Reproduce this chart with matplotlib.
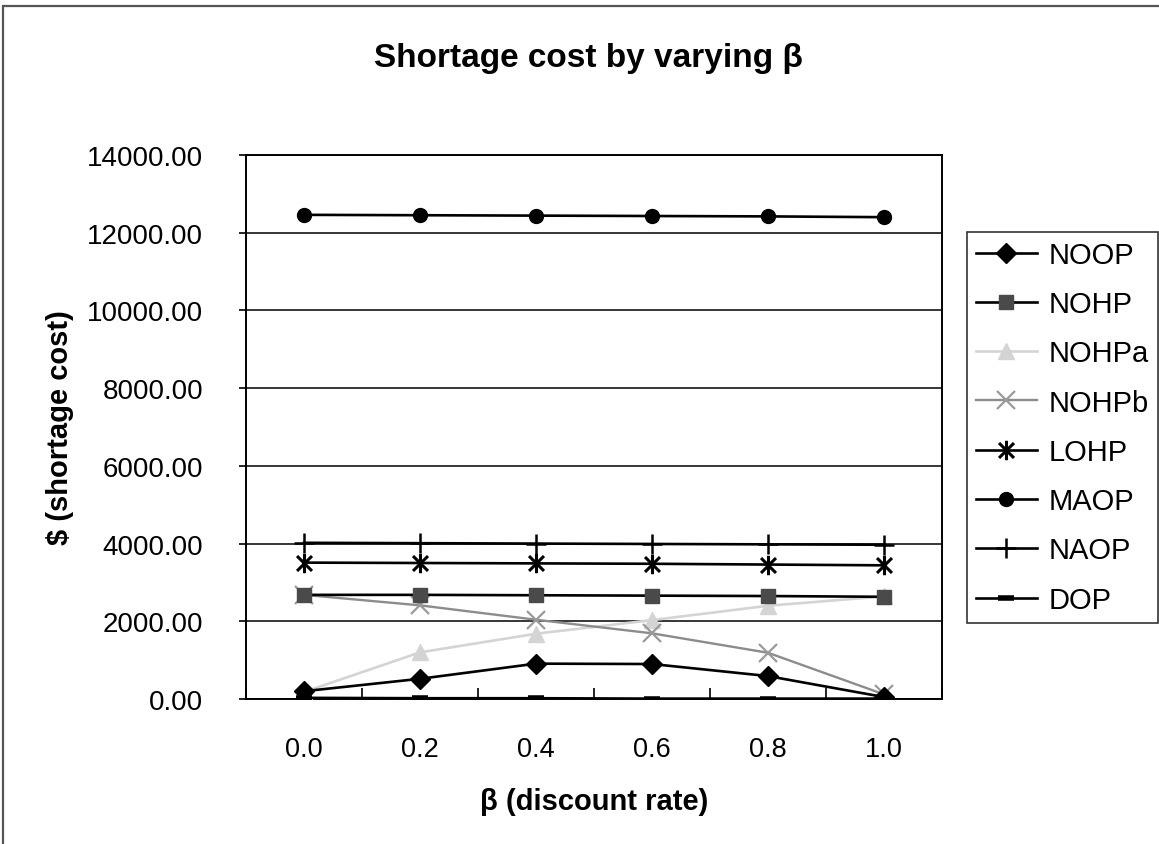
import numpy as np
import matplotlib
matplotlib.use('Agg')
import matplotlib.pyplot as plt
from matplotlib.patches import Rectangle
from matplotlib.path import Path
from matplotlib.ticker import FixedLocator, FormatStrFormatter

plt.rcParams['font.family'] = ['Liberation Sans', 'DejaVu Sans']

### Shortage cost for each policy as beta varies ###
beta = ['0.0', '0.2', '0.4', '0.6', '0.8', '1.0']
NOOP = [200, 520, 910, 900, 590, 50]
NOHP = [2680, 2680, 2670, 2660, 2650, 2630]
NOHPa = [180, 1200, 1680, 2030, 2400, 2640]
NOHPb = [2680, 2410, 2040, 1690, 1190, 120]
LOHP = [3510, 3500, 3490, 3480, 3460, 3440]
MAOP = [12460, 12450, 12440, 12430, 12420, 12400]
NAOP = [4020, 4010, 4000, 3990, 3980, 3970]
DOP = [30, 20, 20, 10, 10, 10]

# star marker: an X with a vertical bar through it
star = Path([(-1, -1), (1, 1), (-1, 1), (1, -1), (0, -1.3), (0, 1.3)],
            [Path.MOVETO, Path.LINETO, Path.MOVETO, Path.LINETO, Path.MOVETO, Path.LINETO])

W, H = 1159, 845
fig = plt.figure(figsize=(W/100, H/100), dpi=100)
ax = fig.add_axes([246/W, 1-700/H, 696/W, 544/H])

x = np.arange(len(beta))
lw = 1.9
ax.plot(x, NOOP, color='black', lw=lw, marker='D', ms=10, mfc='black', mec='black', label='NOOP', zorder=5)
ax.plot(x, NOHP, color='black', lw=lw, marker='s', ms=10, mfc='#4a4a4a', mec='#4a4a4a', label='NOHP', zorder=4)
ax.plot(x, NOHPa, color='#d4d4d4', lw=lw, marker='^', ms=11, mfc='#d4d4d4', mec='#d4d4d4', label='NOHPa', zorder=3)
ax.plot(x, NOHPb, color='#8c8c8c', lw=1.7, marker='x', ms=13, mew=1.6, mfc='#9a9a9a', mec='#9a9a9a', label='NOHPb', zorder=3)
ax.plot(x, LOHP, color='black', lw=lw, marker=star, ms=14, mew=2.2, mec='black', label='LOHP', zorder=4)
ax.plot(x, MAOP, color='black', lw=lw, marker='o', ms=10, mfc='black', mec='black', label='MAOP', zorder=4)
ax.plot(x, NAOP, color='black', lw=lw, marker='+', ms=15, mew=1.8, mec='black', label='NAOP', zorder=4)
ax.plot(x, DOP, color='black', lw=lw, marker='_', ms=11, mew=4, mec='black', label='DOP', zorder=4)

# category axis: values sit between the tick boundaries
ax.set_xlim(-0.5, len(beta) - 0.5)
ax.set_xticks(x)
ax.set_xticklabels(beta)
ax.xaxis.set_minor_locator(FixedLocator(np.arange(-0.5, len(beta), 1.0)))
ax.tick_params(axis='x', which='major', length=0, pad=27, labelsize=19.5)
ax.tick_params(axis='x', which='minor', direction='in', length=8, width=1.2)

ax.set_ylim(0, 14000)
ax.set_yticks(np.arange(0, 14001, 2000))
ax.yaxis.set_major_formatter(FormatStrFormatter('%.2f'))
ax.tick_params(axis='y', direction='out', length=5, width=1.2, pad=26, labelsize=20)
ax.grid(axis='y', color='black', lw=1.1)
ax.set_axisbelow(True)
for s in ax.spines.values():
    s.set_linewidth(1.4)

ax.set_xlabel('β (discount rate)', fontsize=21, fontweight='bold', labelpad=18)
ax.set_ylabel('$ (shortage cost)', fontsize=21, fontweight='bold', labelpad=9)

fig.text(588/W, 1-58/H, 'Shortage cost by varying β', fontsize=24, fontweight='bold',
         ha='center', va='center')

leg = ax.legend(loc='upper left', bbox_to_anchor=(967/W, 1-233/H), bbox_transform=fig.transFigure,
                fontsize=21, frameon=True, fancybox=False, edgecolor='black', borderpad=0.3,
                labelspacing=0.73, handlelength=2.1, handletextpad=0.4, borderaxespad=0)
leg.get_frame().set_linewidth(1.2)

# chart border
fig.patches.append(Rectangle((3/W, -0.1), 1.2, 1.1 - 7/H, transform=fig.transFigure,
                             fill=False, edgecolor='#555555', lw=1.6))

fig.savefig('out.png', dpi=100)
